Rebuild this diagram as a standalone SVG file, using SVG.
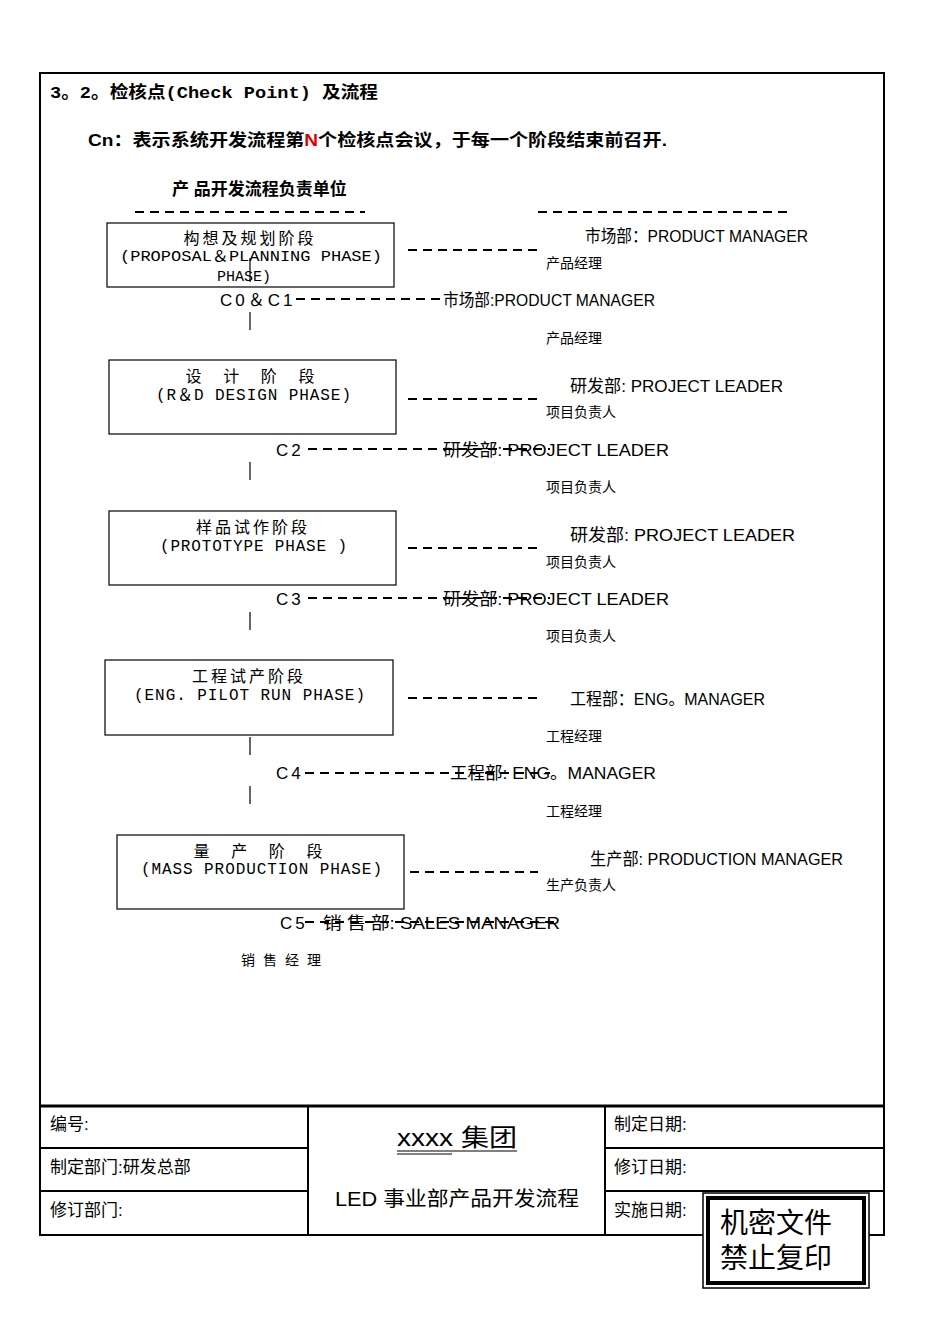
<svg xmlns="http://www.w3.org/2000/svg" width="950" height="1344" viewBox="0 0 950 1344">
<style>
.t{font-family:"Liberation Mono","Noto Sans CJK SC",monospace;font-size:16px;fill:#000}
.s{font-family:"Liberation Sans","Noto Sans CJK SC",sans-serif;font-size:17px;fill:#000}
.c{font-family:"Noto Sans CJK SC",sans-serif;font-size:14px;fill:#000}
.b{font-weight:bold}
.box{fill:#fff;stroke:#000;stroke-width:1.2}
.d{stroke:#000;stroke-width:2;stroke-dasharray:9,6;fill:none}
.v{stroke:#000;stroke-width:1.2}
</style>
<rect width="950" height="1344" fill="#fff"/>
<rect x="40" y="73" width="844" height="1162" fill="none" stroke="#000" stroke-width="2"/>
<line x1="40" y1="1106" x2="884" y2="1106" stroke="#000" stroke-width="3"/>
<text class="t b" x="50" y="98" style="font-size:17px" textLength="328" lengthAdjust="spacingAndGlyphs">3。2。检核点(Check Point) 及流程</text>
<text class="s b" x="88" y="146" textLength="579" lengthAdjust="spacingAndGlyphs">Cn：表示系统开发流程第<tspan fill="#e00000">N</tspan>个检核点会议，于每一个阶段结束前召开.</text>
<text class="s b" x="172" y="195">产 品开发流程负责单位</text>
<g id="connectors">
<line class="d" x1="135" y1="212" x2="365" y2="212"/>
<line class="d" x1="538" y1="212" x2="792" y2="212"/>
<line class="d" x1="408" y1="250" x2="538" y2="250"/>
<line class="d" x1="296" y1="299" x2="440" y2="299"/>
<line class="v" x1="250" y1="312" x2="250" y2="330"/>
<line class="d" x1="408" y1="399" x2="538" y2="399"/>
<line class="v" x1="250" y1="413" x2="250" y2="430"/>
<line class="d" x1="308" y1="449" x2="550" y2="449"/>
<line class="v" x1="250" y1="462" x2="250" y2="480"/>
<line class="d" x1="408" y1="548" x2="538" y2="548"/>
<line class="v" x1="250" y1="562" x2="250" y2="580"/>
<line class="d" x1="308" y1="598" x2="550" y2="598"/>
<line class="v" x1="250" y1="612" x2="250" y2="630"/>
<line class="d" x1="408" y1="698" x2="538" y2="698"/>
<line class="v" x1="250" y1="737" x2="250" y2="755"/>
<line class="d" x1="305" y1="773" x2="550" y2="773"/>
<line class="v" x1="250" y1="786" x2="250" y2="804"/>
<line class="d" x1="410" y1="872" x2="538" y2="872"/>
<line class="v" x1="250" y1="885" x2="250" y2="903"/>
<line class="d" x1="305" y1="922" x2="560" y2="922"/>
</g>
<g id="n1"><rect class="box" x="107" y="223" width="287" height="64"/>
<text class="t" x="250" y="244" text-anchor="middle" letter-spacing="3">构想及规划阶段</text>
<text class="t" x="120" y="261" style="font-size:15px" textLength="262" lengthAdjust="spacingAndGlyphs">(PROPOSAL＆PLANNING PHASE)</text>
<text class="t" x="244" y="281" text-anchor="middle" style="font-size:15px">PHASE)</text>
<line class="v" x1="250" y1="258" x2="250" y2="282"/></g>
<text class="s" x="220" y="306" letter-spacing="3">C0＆C1</text>
<g id="n2"><rect class="box" x="109" y="360" width="287" height="74"/>
<text class="t" x="253" y="382" text-anchor="middle" letter-spacing="6">设 计 阶 段</text>
<text class="t" x="156" y="400" textLength="195" lengthAdjust="spacing">(R＆D DESIGN PHASE)</text></g>
<text class="s" x="276" y="456" letter-spacing="3">C2</text>
<g id="n3"><rect class="box" x="109" y="511" width="287" height="74"/>
<text class="t" x="253" y="533" text-anchor="middle" letter-spacing="3">样品试作阶段</text>
<text class="t" x="160" y="551" textLength="187" lengthAdjust="spacing">(PROTOTYPE PHASE )</text></g>
<text class="s" x="276" y="605" letter-spacing="3">C3</text>
<g id="n4"><rect class="box" x="105" y="660" width="288" height="75"/>
<text class="t" x="249" y="682" text-anchor="middle" letter-spacing="3">工程试产阶段</text>
<text class="t" x="134" y="700" textLength="231" lengthAdjust="spacing">(ENG. PILOT RUN PHASE)</text></g>
<text class="s" x="276" y="779" letter-spacing="3">C4</text>
<g id="n5"><rect class="box" x="117" y="835" width="287" height="74"/>
<text class="t" x="261" y="857" text-anchor="middle" letter-spacing="6">量 产 阶 段</text>
<text class="t" x="141" y="874" textLength="241" lengthAdjust="spacing">(MASS PRODUCTION PHASE)</text></g>
<text class="s" x="280" y="929" letter-spacing="3">C5</text>
<g id="labels">
<text class="s" x="585" y="242" textLength="223" lengthAdjust="spacingAndGlyphs">市场部：PRODUCT MANAGER</text>
<text class="c" x="546" y="268">产品经理</text>
<text class="s" x="443" y="306" textLength="212" lengthAdjust="spacingAndGlyphs">市场部:PRODUCT MANAGER</text>
<text class="c" x="546" y="343">产品经理</text>
<text class="s" x="570" y="392" textLength="213" lengthAdjust="spacingAndGlyphs">研发部: PROJECT LEADER</text>
<text class="c" x="546" y="417">项目负责人</text>
<text class="s" x="443" y="456" textLength="226" lengthAdjust="spacingAndGlyphs">研发部:  PROJECT LEADER</text>
<text class="c" x="546" y="492">项目负责人</text>
<text class="s" x="570" y="541" textLength="225" lengthAdjust="spacingAndGlyphs">研发部:  PROJECT LEADER</text>
<text class="c" x="546" y="567">项目负责人</text>
<text class="s" x="443" y="605" textLength="226" lengthAdjust="spacingAndGlyphs">研发部:  PROJECT LEADER</text>
<text class="c" x="546" y="641">项目负责人</text>
<text class="s" x="570" y="705" textLength="195" lengthAdjust="spacingAndGlyphs">工程部：ENG。MANAGER</text>
<text class="c" x="546" y="741">工程经理</text>
<text class="s" x="450" y="779" textLength="206" lengthAdjust="spacingAndGlyphs">工程部:  ENG。MANAGER</text>
<text class="c" x="546" y="816">工程经理</text>
<text class="s" x="590" y="865" textLength="253" lengthAdjust="spacingAndGlyphs">生产部: PRODUCTION MANAGER</text>
<text class="c" x="546" y="890">生产负责人</text>
<text class="s" x="323" y="929" textLength="237" lengthAdjust="spacingAndGlyphs">销  售  部: SALES MANAGER</text>
<text class="c" x="241" y="965" letter-spacing="8">销售经理</text>
</g>
<g id="footer" fill="none" stroke="#000" stroke-width="2">
<rect x="40" y="1106" width="268" height="129"/>
<line x1="40" y1="1148" x2="308" y2="1148"/>
<line x1="40" y1="1191" x2="308" y2="1191"/>
<rect x="605" y="1106" width="279" height="129"/>
<line x1="605" y1="1148" x2="884" y2="1148"/>
<line x1="605" y1="1191" x2="884" y2="1191"/>
</g>
<text class="s" x="50" y="1130">编号:</text>
<text class="s" x="50" y="1173">制定部门:研发总部</text>
<text class="s" x="50" y="1216">修订部门:</text>
<text class="s" x="614" y="1130">制定日期:</text>
<text class="s" x="614" y="1173">修订日期:</text>
<text class="s" x="614" y="1216">实施日期:</text>
<text class="s" x="397" y="1146" style="font-size:24px" textLength="120" lengthAdjust="spacingAndGlyphs">xxxx 集团</text>
<line x1="397" y1="1151" x2="517" y2="1151" stroke="#000"/>
<line x1="397" y1="1154" x2="452" y2="1154" stroke="#000"/>
<text class="s" x="335" y="1206" style="font-size:20px" textLength="244" lengthAdjust="spacingAndGlyphs">LED 事业部产品开发流程</text>
<g id="stamp">
<rect x="703" y="1193" width="166" height="95" fill="#fff" stroke="#000" stroke-width="1.5"/>
<rect x="708" y="1198" width="156" height="85" fill="none" stroke="#000" stroke-width="4"/>
<text class="s" x="720" y="1233" style="font-size:28px">机密文件</text>
<text class="s" x="720" y="1268" style="font-size:28px">禁止复印</text>
</g>
</svg>
